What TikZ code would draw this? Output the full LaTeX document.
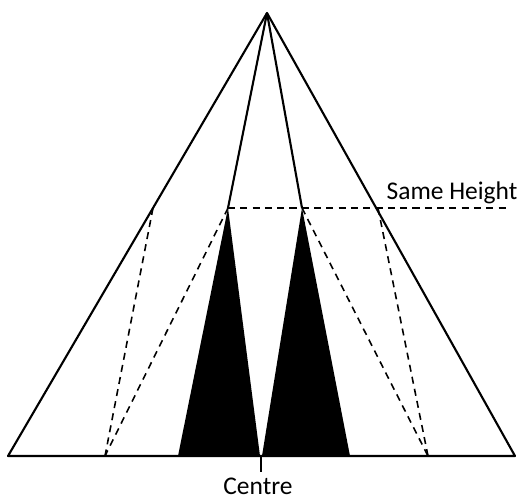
\documentclass[tikz,border=0pt]{standalone}
\usepackage{fontspec}
\setmainfont{Carlito}
\usetikzlibrary{positioning}

\begin{document}
\begin{tikzpicture}[x=0.02cm, y=-0.02cm, line join=round,
    every node/.style={font=\fontsize{14.5}{17}\selectfont},
    outline/.style={line width=1.2pt},
    guide/.style={dashed, line width=0.9pt, dash pattern=on 4pt off 3pt}]
    \useasboundingbox (0,0) rectangle (524,500);

    % Apex, base and the same-height points
    \coordinate (apex) at (267,13);
    \coordinate (BL) at (8,456);
    \coordinate (BR) at (515,456);
    \coordinate (C) at (261,456);
    \coordinate (Cd) at (261,472);
    \coordinate (HL) at (153,208);
    \coordinate (HR) at (378,208);
    \coordinate (TL) at (228,208);
    \coordinate (TR) at (302,208);
    \coordinate (Hend) at (509,208);
    \coordinate (FL) at (105,456);
    \coordinate (FR) at (428,456);

    % Black triangles
    \fill (TL) -- (178,456) -- (260,456) -- cycle;
    \fill (TR) -- (262,456) -- (350,456) -- cycle;

    % Outline and inner lines
    \draw[outline] (BL) -- (apex) -- (BR) -- cycle;
    \draw[outline] (apex) -- (TL);
    \draw[outline] (apex) -- (TR);
    \draw[line width=1pt] (C) -- (Cd);

    % Dashed guides
    \draw[guide] (TL) -- (Hend);
    \foreach \a/\b in {HL/FL, TL/FL, TR/FR, HR/FR}
      \draw[guide] (\a) -- (\b);

    \node[anchor=base] (same) at (452,199) {Same Height};
    \node[anchor=base] (centre) at (258,494) {Centre};
\end{tikzpicture}
\end{document}
